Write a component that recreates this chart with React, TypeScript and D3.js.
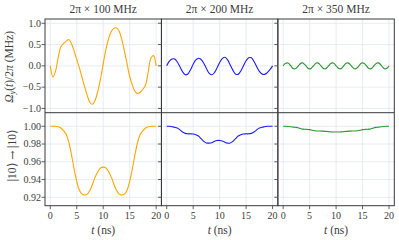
import React from 'react';
import * as d3 from 'd3';

// sample times (ns)
const tHalf = d3.range(0, 20.001, 0.5);
const tQuarter = d3.range(0, 20.001, 0.25);

const titles = ['2π × 100 MHz', '2π × 200 MHz', '2π × 350 MHz'];
const colors = ['#ffa500', '#1a1aff', '#2a962a'];

// Omega_y(t)/2pi
const pulse100 = [0, -0.26, -0.12, 0.2, 0.45, 0.52, 0.58, 0.62, 0.52, 0.35, 0.15, -0.05, -0.27, -0.5, -0.7, -0.86, -0.9, -0.8, -0.58, -0.3,
  0.05, 0.38, 0.63, 0.8, 0.88, 0.89, 0.82, 0.62, 0.35, 0.05, -0.25, -0.45, -0.6, -0.65, -0.62, -0.55, -0.45, -0.15, 0.18, 0.24, 0];
const pulse200 = [0, 0.11, 0.16, 0.16, 0.09, -0.02, -0.14, -0.21, -0.19, -0.09, 0.04, 0.14, 0.18, 0.15, 0.06, -0.06, -0.17, -0.21, -0.16, -0.05,
  0.08, 0.17, 0.2, 0.14, 0.02, -0.1, -0.19, -0.2, -0.12, 0, 0.12, 0.19, 0.19, 0.1, -0.02, -0.13, -0.19, -0.2, -0.16, -0.09, 0];
const pulse350 = [0, 0.04, 0.06, 0.07, 0.06, 0.03, -0.01, -0.05, -0.07, -0.07, -0.05, -0.02, 0.02, 0.05, 0.07, 0.065, 0.04, 0.01, -0.03, -0.06,
  -0.07, -0.06, -0.03, 0, 0.04, 0.065, 0.07, 0.055, 0.02, -0.015, -0.05, -0.07, -0.07, -0.045, -0.01, 0.025, 0.055, 0.07, 0.065, 0.04,
  0, -0.035, -0.06, -0.07, -0.06, -0.03, 0.01, 0.045, 0.065, 0.07, 0.05, 0.02, -0.02, -0.05, -0.07, -0.065, -0.045, -0.01, 0.03, 0.06,
  0.07, 0.06, 0.035, 0, -0.04, -0.065, -0.07, -0.055, -0.025, 0.015, 0.045, 0.065, 0.07, 0.05, 0.015, -0.025, -0.055, -0.07, -0.065, -0.04, 0];

// |10> -> |10> population
const pop100 = [1, 1, 1, 0.9995, 0.998, 0.995, 0.991, 0.982, 0.968, 0.952, 0.938, 0.928, 0.9235, 0.9225, 0.9235, 0.928, 0.935, 0.943, 0.949, 0.953,
  0.954, 0.953, 0.949, 0.943, 0.935, 0.928, 0.9235, 0.9225, 0.9235, 0.928, 0.938, 0.952, 0.968, 0.982, 0.991, 0.995, 0.998, 0.9995, 1, 1, 1];
const pop200 = [1, 1, 0.9995, 0.999, 0.998, 0.996, 0.9935, 0.992, 0.9915, 0.9915, 0.9913, 0.9905, 0.989, 0.986, 0.983, 0.9812, 0.981, 0.9815, 0.983, 0.984,
  0.984, 0.9835, 0.982, 0.981, 0.9812, 0.983, 0.986, 0.989, 0.9905, 0.9913, 0.9915, 0.9915, 0.992, 0.9935, 0.996, 0.998, 0.999, 0.9995, 1, 1, 1];
const pop350 = [1, 1, 0.9998, 0.9995, 0.999, 0.9988, 0.998, 0.997, 0.9967, 0.9965, 0.9962, 0.9955, 0.995, 0.9947, 0.9946, 0.9945, 0.9943, 0.994, 0.9937, 0.9936,
  0.9935, 0.9936, 0.9937, 0.994, 0.9943, 0.9945, 0.9946, 0.9947, 0.995, 0.9955, 0.9962, 0.9965, 0.9967, 0.997, 0.998, 0.9988, 0.999, 0.9995, 0.9998, 1, 1];

const xTicks = [0, 5, 10, 15, 20];
const topTicks = [-1.0, -0.5, 0.0, 0.5, 1.0];
const botTicks = [0.92, 0.94, 0.96, 0.98, 1.0];

const pulses = [
  { t: tHalf, v: pulse100 },
  { t: tHalf, v: pulse200 },
  { t: tQuarter, v: pulse350 },
];
const pops = [pop100, pop200, pop350];

const W = 399, H = 240;
const left = 45, right = 394.3, top = 19, mid = 112.7, bottom = 205.7;
const pw = (right - left) / 3;
const font = 'Liberation Serif';
const gridColor = '#e1e7ef';
const spine = '#3a3a3a';
const txt = '#3c3c3c';

const yTop = d3.scaleLinear().domain([-1.1, 1.1]).range([mid, top]);
const yBot = d3.scaleLinear().domain([0.9105, 1.0153]).range([bottom, mid]);

const fmt = (v: number, d: number) => v.toFixed(d).replace('-', '−');

function Panel({ i }: { i: number }) {
  const x0 = left + i * pw;
  const x = d3.scaleLinear().domain([-1, 21]).range([x0, x0 + pw]);
  const lineTop = d3.line<number>().x((_, k) => x(pulses[i].t[k])).y(d => yTop(d)).curve(d3.curveCatmullRom);
  const lineBot = d3.line<number>().x((_, k) => x(tHalf[k])).y(d => yBot(d)).curve(d3.curveCatmullRom);
  return (
    <g>
      {/* grid */}
      {xTicks.map(t => (
        <line key={'gx' + t} x1={x(t)} x2={x(t)} y1={top} y2={bottom} stroke={gridColor} strokeWidth={0.8} />
      ))}
      {topTicks.map(v => (
        <line key={'gt' + v} x1={x0} x2={x0 + pw} y1={yTop(v)} y2={yTop(v)} stroke={gridColor} strokeWidth={0.8} />
      ))}
      {botTicks.map(v => (
        <line key={'gb' + v} x1={x0} x2={x0 + pw} y1={yBot(v)} y2={yBot(v)} stroke={gridColor} strokeWidth={0.8} />
      ))}
      <path d={lineTop(pulses[i].v) || ''} fill="none" stroke={colors[i]} strokeWidth={1.1} />
      <path d={lineBot(pops[i]) || ''} fill="none" stroke={colors[i]} strokeWidth={1.1} />
      {/* y ticks */}
      {topTicks.map(v => (
        <line key={'tt' + v} x1={x0 - 3.5} x2={x0} y1={yTop(v)} y2={yTop(v)} stroke={spine} strokeWidth={0.8} />
      ))}
      {botTicks.map(v => (
        <line key={'tb' + v} x1={x0 - 3.5} x2={x0} y1={yBot(v)} y2={yBot(v)} stroke={spine} strokeWidth={0.8} />
      ))}
      {/* x ticks + labels */}
      {xTicks.map(t => (
        <g key={'xt' + t}>
          <line x1={x(t)} x2={x(t)} y1={bottom} y2={bottom + 3.5} stroke={spine} strokeWidth={0.8} />
          <text x={x(t)} y={bottom + 13} textAnchor="middle" fontSize={10} fontFamily={font} fill={txt}>{t}</text>
        </g>
      ))}
      <text x={x0 + pw / 2} y={13} textAnchor="middle" fontSize={11.5} fontFamily={font} fill={txt}>{titles[i]}</text>
      <text x={x(10)} y={234} textAnchor="middle" fontSize={11.5} fontFamily={font} fill={txt}>
        <tspan fontStyle="italic">t</tspan> (ns)
      </text>
      {/* panel frame */}
      <rect x={x0} y={top} width={pw} height={bottom - top} fill="none" stroke={spine} strokeWidth={1} />
    </g>
  );
}

export default function App() {
  return (
    <svg width={W} height={H} fontFamily={font} style={{ position: 'absolute', left: 0, top: 0 }}>
      <rect width={W} height={H} fill="#fff" />
      {[0, 1, 2].map(i => <Panel key={i} i={i} />)}
      <line x1={left} x2={right} y1={mid} y2={mid} stroke={spine} strokeWidth={1} />
      {topTicks.map(v => (
        <text key={'lt' + v} x={41} y={yTop(v) + 3.3} textAnchor="end" fontSize={10} fontFamily={font} fill={txt}>{fmt(v, 1)}</text>
      ))}
      {botTicks.map(v => (
        <text key={'lb' + v} x={41} y={yBot(v) + 3.3} textAnchor="end" fontSize={10} fontFamily={font} fill={txt}>{fmt(v, 2)}</text>
      ))}
      <text transform={`translate(13,${(top + mid) / 2 + 1}) rotate(-90)`} textAnchor="middle" fontSize={11.5} fontFamily={font} fill={txt}>
        <tspan fontStyle="italic">Ω</tspan><tspan fontStyle="italic" fontSize={8} dy={2}>y</tspan><tspan dy={-2}>(</tspan><tspan fontStyle="italic">t</tspan>)/2<tspan fontStyle="italic">π</tspan> (MHz)
      </text>
      <text transform={`translate(16,${(mid + bottom) / 2 - 4}) rotate(-90)`} textAnchor="middle" fontSize={11.5} fontFamily={font} fill={txt}>
        |10⟩ <tspan fontFamily="DejaVu Serif" fontSize={10.5}>→</tspan> |10⟩
      </text>
    </svg>
  );
}
